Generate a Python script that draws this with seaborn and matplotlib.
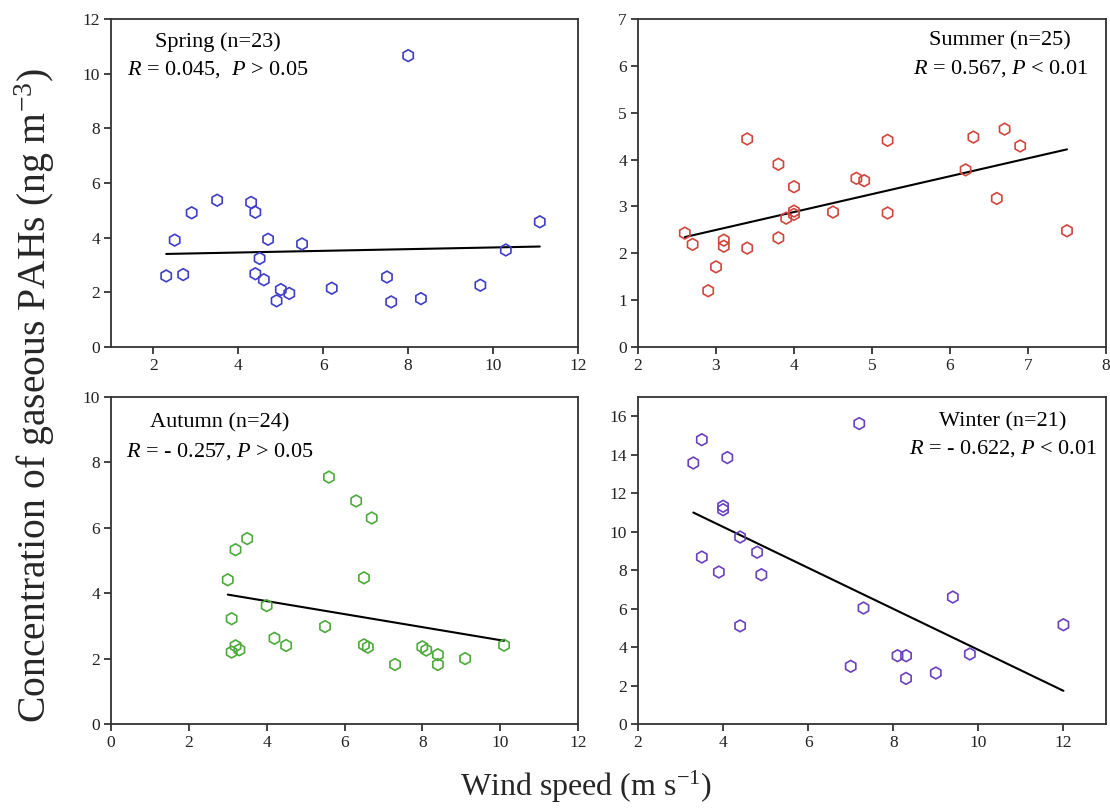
import numpy as np
import pandas as pd
import matplotlib
matplotlib.use("Agg")
import matplotlib.pyplot as plt
import seaborn as sns

# ---- data ----
spring_x = [8.0, 3.5, 4.3, 2.9, 4.4, 11.1, 2.5, 4.7, 5.5, 10.3, 4.5, 2.3, 2.7, 4.4, 4.6,
            7.5, 5.0, 5.2, 6.2, 4.9, 7.6, 8.3, 9.7]
spring_y = [10.66, 5.37, 5.29, 4.91, 4.93, 4.58, 3.91, 3.94, 3.77, 3.55, 3.24, 2.60, 2.65,
            2.68, 2.46, 2.56, 2.10, 1.96, 2.15, 1.69, 1.65, 1.77, 2.26]

summer_x = [2.6, 2.7, 2.9, 3.0, 3.1, 3.1, 3.4, 3.4, 3.8, 3.8, 3.9, 4.0, 4.0, 4.0, 4.5,
            4.8, 4.9, 5.2, 5.2, 6.2, 6.3, 6.6, 6.7, 6.9, 7.5]
summer_y = [2.43, 2.19, 1.20, 1.71, 2.28, 2.15, 4.44, 2.11, 3.90, 2.33, 2.75, 3.42, 2.90,
            2.83, 2.88, 3.60, 3.55, 4.41, 2.86, 3.78, 4.48, 3.17, 4.65, 4.29, 2.48]

autumn_x = [5.6, 6.3, 6.7, 3.5, 3.2, 3.0, 6.5, 4.0, 3.1, 5.5, 4.2, 4.5, 3.2, 3.3, 3.1,
            6.5, 6.6, 8.0, 8.1, 8.4, 8.4, 7.3, 9.1, 10.1]
autumn_y = [7.55, 6.82, 6.30, 5.67, 5.33, 4.41, 4.47, 3.62, 3.22, 2.98, 2.62, 2.40, 2.39,
            2.27, 2.20, 2.42, 2.35, 2.36, 2.26, 2.12, 1.82, 1.82, 2.00, 2.41]

winter_x = [7.2, 3.5, 3.3, 4.1, 4.0, 4.0, 4.4, 4.8, 3.5, 3.9, 4.9, 4.4, 7.3, 9.4, 12.0,
            7.0, 8.1, 8.3, 8.3, 9.0, 9.8]
winter_y = [15.62, 14.78, 13.57, 13.85, 11.32, 11.14, 9.72, 8.93, 8.68, 7.90, 7.76, 5.10,
            6.03, 6.60, 5.16, 3.00, 3.55, 3.55, 2.37, 2.65, 3.64]

season_labels = ["Spring (n=23)", "Summer (n=25)", "Autumn (n=24)", "Winter (n=21)"]
stat_labels = [r"$R$ = 0.045,  $P$ > 0.05", r"$R$ = 0.567, $P$ < 0.01",
               r"$R$ = - 0.257, $P$ > 0.05", r"$R$ = - 0.622, $P$ < 0.01"]
colors = ["#3d3dc6", "#d0453c", "#4caa3a", "#6a40bf"]
xlims = [(1, 12), (2, 8), (0, 12), (2, 13)]
ylims = [(0, 12), (0, 7), (0, 10), (0, 17)]
xticks = [[2, 4, 6, 8, 10, 12], [2, 3, 4, 5, 6, 7, 8], [0, 2, 4, 6, 8, 10, 12], [2, 4, 6, 8, 10, 12]]
yticks = [[0, 2, 4, 6, 8, 10, 12], [0, 1, 2, 3, 4, 5, 6, 7], [0, 2, 4, 6, 8, 10],
          [0, 2, 4, 6, 8, 10, 12, 14, 16]]

xs = [spring_x, summer_x, autumn_x, winter_x]
ys = [spring_y, summer_y, autumn_y, winter_y]

sns.set_style("ticks")
plt.rcParams["font.family"] = ["Liberation Serif", "DejaVu Serif"]
plt.rcParams["mathtext.fontset"] = "custom"
plt.rcParams["mathtext.rm"] = "Liberation Serif"
plt.rcParams["mathtext.it"] = "Liberation Serif:italic"

W, H = 1110, 811
fig = plt.figure(figsize=(W / 100, H / 100), dpi=100)

# axes boxes in pixels: left, right, top, bottom
boxes = [(111, 578, 19, 347), (638, 1106, 19, 347), (111, 578, 397, 724), (638, 1106, 397, 724)]
text_pos = [(0.229, 0.930, 0.845), (0.774, 0.933, 0.848), (0.233, 0.920, 0.832), (0.780, 0.924, 0.841)]

for i in range(4):
    l, r, t, b = boxes[i]
    ax = fig.add_axes([l / W, 1 - b / H, (r - l) / W, (b - t) / H])
    df = pd.DataFrame({"x": xs[i], "y": ys[i]})
    sns.scatterplot(data=df, x="x", y="y", ax=ax, marker="h", s=72,
                    facecolor="none", edgecolor=colors[i], linewidth=1.2, zorder=3)
    sns.regplot(data=df, x="x", y="y", ax=ax, scatter=False, ci=None, truncate=True,
                line_kws=dict(color="black", lw=1.5, zorder=2))
    ax.set_xlim(*xlims[i])
    ax.set_ylim(*ylims[i])
    ax.set_xticks(xticks[i])
    ax.set_yticks(yticks[i])
    ax.set_xlabel("")
    ax.set_ylabel("")
    for sp in ax.spines.values():
        sp.set_linewidth(1.3)
        sp.set_color("#333333")
    ax.tick_params(direction="out", length=5, width=1.2, labelsize=12.5, colors="#222222",
                   top=False, right=False, pad=3)
    tx, ty1, ty2 = text_pos[i]
    ax.text(tx, ty1, season_labels[i], transform=ax.transAxes, ha="center", va="center",
            fontsize=16, color="black")
    ax.text(tx, ty2, stat_labels[i], transform=ax.transAxes, ha="center", va="center",
            fontsize=16, color="black")

fig.text(35 / W, 1 - 395 / H, r"Concentration of gaseous PAHs (ng m$^{\mathregular{-3}}$)",
         rotation=90, ha="center", va="center", fontsize=28.5)
fig.text(586 / W, 1 - 787 / H, r"Wind speed (m s$^{\mathregular{-1}}$)",
         ha="center", va="center", fontsize=23)

fig.savefig("out.png", dpi=100)
